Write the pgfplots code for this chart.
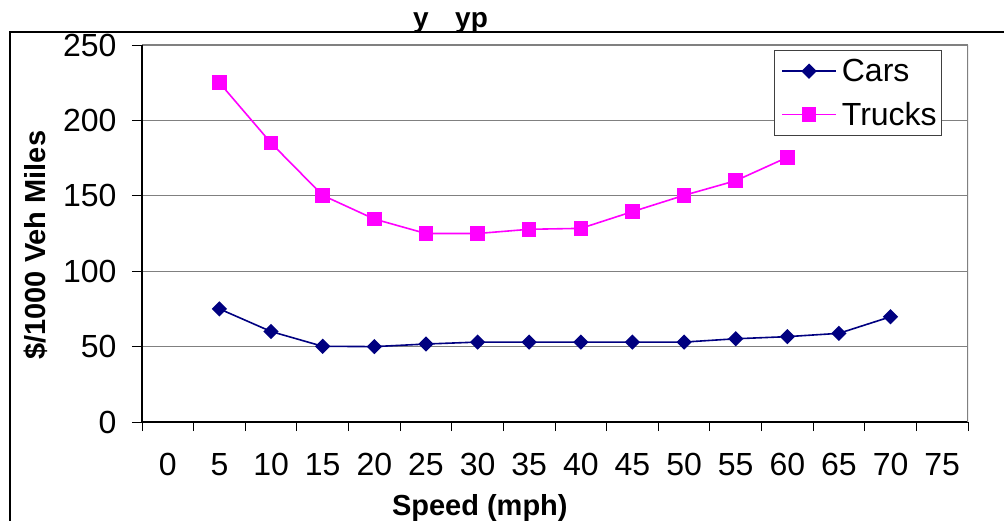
\documentclass[border=0pt]{standalone}
\usepackage{fontspec}
\setmainfont{Liberation Sans}
\usepackage{pgfplots}
\pgfplotsset{compat=1.18}
\definecolor{carblue}{RGB}{0,0,128}
\definecolor{truckmag}{RGB}{255,0,255}
\definecolor{gridgray}{RGB}{128,128,128}
\begin{document}
\begin{tikzpicture}
\begin{axis}[
  at={(142bp,-422bp)}, anchor=south west,
  scale only axis, width=826bp, height=377bp,
  xmin=-2.5, xmax=77.5, ymin=0, ymax=250,
  axis x line*=bottom, axis y line*=left,
  axis line style={-, black, line width=1.3bp},
  xtick={0,5,...,75},
  minor xtick={-2.5,2.5,...,77.5},
  ytick={0,50,...,250},
  tick align=outside,
  major tick length=10bp, minor tick length=9bp,
  every major x tick/.style={draw=none},
  every minor x tick/.style={black, line width=1bp},
  every major y tick/.style={black, line width=1bp},
  ymajorgrids, grid style={gridgray, line width=1.2bp},
  /pgf/number format/assume math mode=true,
  every tick label/.append style={font=\fontsize{32bp}{36bp}\selectfont},
  xticklabel style={yshift=-18bp},
  yticklabel style={xshift=-12bp},
  xlabel={\textbf{Speed (mph)}},
  ylabel={\textbf{\$/1000 Veh Miles}},
  label style={font=\fontsize{29bp}{33bp}\selectfont},
  xlabel style={at={(axis description cs:0.409,-0.2467)}, anchor=base},
  ylabel style={at={(axis description cs:-0.128,0.469)}, anchor=center},
  legend style={at={(axis description cs:0.765,0.987)}, anchor=north west,
    draw=darkgray, line width=0.8bp, font=\fontsize{32bp}{36bp}\selectfont,
    inner xsep=2bp, inner ysep=7bp, row sep=15bp,
    nodes={inner xsep=3bp}},
  legend cell align=left,
  legend image code/.code={\path (-5bp,0bp) (56bp,0bp);\draw[mark repeat=2,mark phase=2] plot coordinates {(0bp,0bp)(27bp,0bp)(54bp,0bp)};},
]
\addplot[carblue, line width=1.6bp, mark=square*, mark size=4.6bp, mark options={rotate=45, solid, fill=carblue}]
coordinates {(5,75) (10,60) (15,50.2) (20,50) (25,51.7) (30,53) (35,53) (40,53) (45,53) (50,53) (55,55.2) (60,56.6) (65,58.8) (70,69.8)};
\addlegendentry{Cars}
\addplot[truckmag, line width=1.6bp, mark=square*, mark size=6.5bp, mark options={solid, fill=truckmag}]
coordinates {(5,225) (10,185) (15,150.3) (20,134.6) (25,125) (30,125) (35,127.8) (40,128.4) (45,139.5) (50,150.3) (55,160) (60,175.5)};
\addlegendentry{Trucks}
\draw[gridgray, line width=1.2bp] (rel axis cs:1,0) -- (rel axis cs:1,1);
\end{axis}
\draw[black, line width=2bp] (10bp,-521bp) -- (10bp,-32bp) -- (1004bp,-32bp);
\node[font=\fontsize{28bp}{32bp}\selectfont\bfseries, anchor=base west, inner sep=0pt] at (413bp,-27bp) {y};
\node[font=\fontsize{28bp}{32bp}\selectfont\bfseries, anchor=base west, inner sep=0pt] at (455bp,-27bp) {yp};
\pgfresetboundingbox
\useasboundingbox (0bp,0bp) rectangle (1004bp,-521bp);
\end{tikzpicture}
\end{document}
